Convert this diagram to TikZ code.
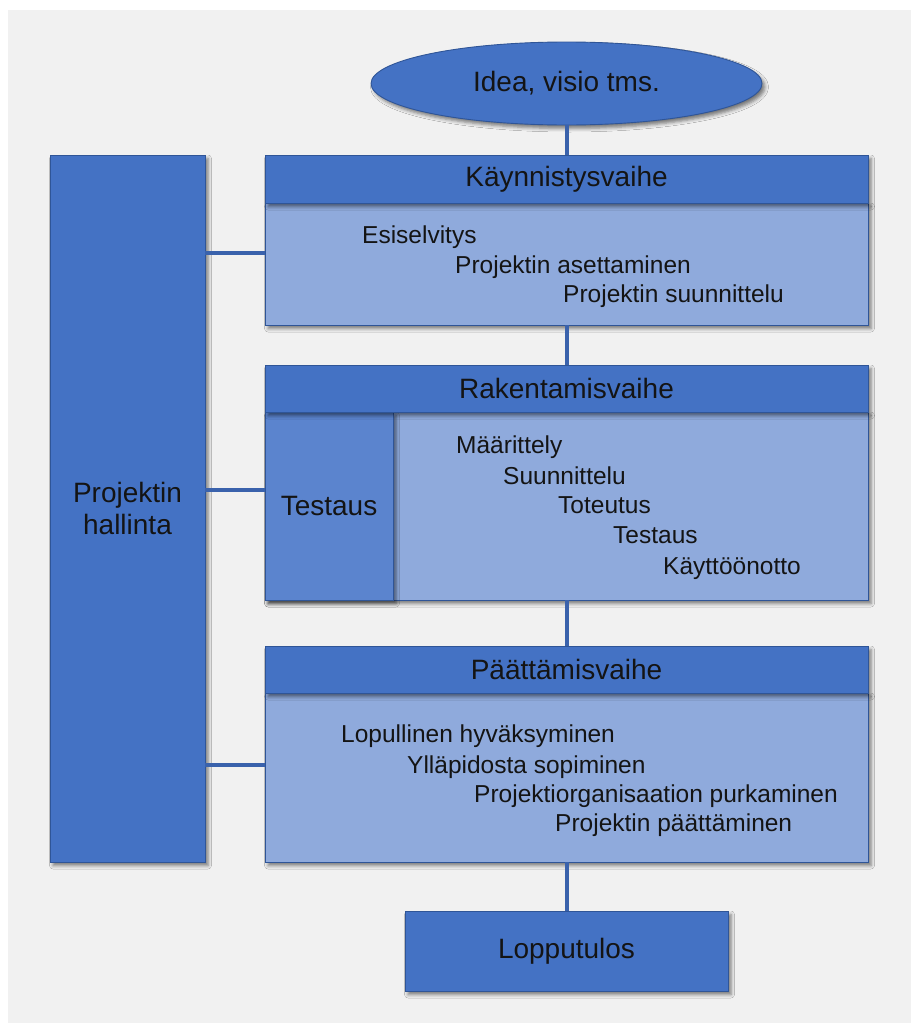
\documentclass[tikz,border=0pt]{standalone}
\usepackage{fontspec}
\setmainfont{Liberation Sans}
\usetikzlibrary{shapes.geometric,shadows.blur}
\definecolor{bgcol}{HTML}{F1F1F1}
\definecolor{headblue}{HTML}{4472C4}
\definecolor{bodyblue}{HTML}{8FAADC}
\definecolor{midblue}{HTML}{5B84CE}
\definecolor{edgeblue}{HTML}{2F5597}
\definecolor{linkblue}{HTML}{3A62AC}
\definecolor{ink}{HTML}{141414}

\begin{document}
\begin{tikzpicture}[x=1pt,y=-1pt,
  boxshadow/.style={blur shadow={shadow xshift=3pt,shadow yshift=-3.5pt,shadow blur radius=3.5pt,shadow opacity=50}},
  panel/.style={draw=edgeblue,line width=0.9pt,inner sep=0pt,boxshadow,text=ink},
  bigfont/.style={font=\fontsize{28}{32.5}\selectfont},
  headbox/.style={panel,fill=headblue,minimum width=603pt,minimum height=48pt,bigfont},
  bodybox/.style={panel,fill=bodyblue,minimum width=603pt},
  item/.style={anchor=base west,inner sep=0pt,text=ink,font=\fontsize{24.5}{28}\selectfont},
  link/.style={draw=linkblue,line width=4pt}
]
% canvas
\fill[white] (0,0) rectangle (911,1023);
\fill[bgcol] (8,10) rectangle (911,1023);

% start and end
\node[ellipse,panel,fill=headblue,minimum width=391pt,minimum height=83pt,bigfont] (idea) at (566.5,83.5) {Idea, visio tms.};
\node[panel,fill=headblue,minimum width=323pt,minimum height=80pt,bigfont] (lop) at (566.5,951) {Lopputulos};

% project management column
\node[panel,fill=headblue,minimum width=155pt,minimum height=707pt,align=center,bigfont] (hall) at (127.5,508.5) {Projektin\\hallinta};

% phase 1
\node[bodybox,minimum height=122pt] (kb) at (566.5,264) {};
\node[headbox] (kh) at (566.5,179) {Käynnistysvaihe};
\node[item] (k1) at (362,243) {Esiselvitys};
\node[item] (k2) at (455,273) {Projektin asettaminen};
\node[item] (k3) at (563,302) {Projektin suunnittelu};

% phase 2
\node[bodybox,minimum height=188pt] (rb) at (566.5,506) {};
\node[panel,fill=midblue,minimum width=128pt,minimum height=188pt,bigfont] (rt) at (329,506) {Testaus};
\node[headbox,minimum height=47pt] (rh) at (566.5,388.5) {Rakentamisvaihe};
\node[item] (r1) at (456,453) {Määrittely};
\node[item] (r2) at (503,484) {Suunnittelu};
\node[item] (r3) at (558,513) {Toteutus};
\node[item] (r4) at (613,543) {Testaus};
\node[item] (r5) at (663,574) {Käyttöönotto};

% phase 3
\node[bodybox,minimum height=169pt] (pb) at (566.5,777.5) {};
\node[headbox,minimum height=47pt] (ph) at (566.5,669.5) {Päättämisvaihe};
\node[item] (p1) at (341,742) {Lopullinen hyväksyminen};
\node[item] (p2) at (407,773) {Ylläpidosta sopiminen};
\node[item] (p3) at (474,802) {Projektiorganisaation purkaminen};
\node[item] (p4) at (555,831) {Projektin päättäminen};

% flow connectors
\draw[link] (idea.south) -- (kh.north);
\draw[link] (kb.south) -- (rh.north);
\draw[link] (rb.south) -- (ph.north);
\draw[link] (pb.south) -- (lop.north);

% management ties
\coordinate (t1) at (0,253);
\coordinate (t2) at (0,490);
\coordinate (t3) at (0,765);
\draw[link] (hall.east |- t1) -- (kb.west |- t1);
\draw[link] (hall.east |- t2) -- (rt.west |- t2);
\draw[link] (hall.east |- t3) -- (pb.west |- t3);
\end{tikzpicture}
\end{document}
